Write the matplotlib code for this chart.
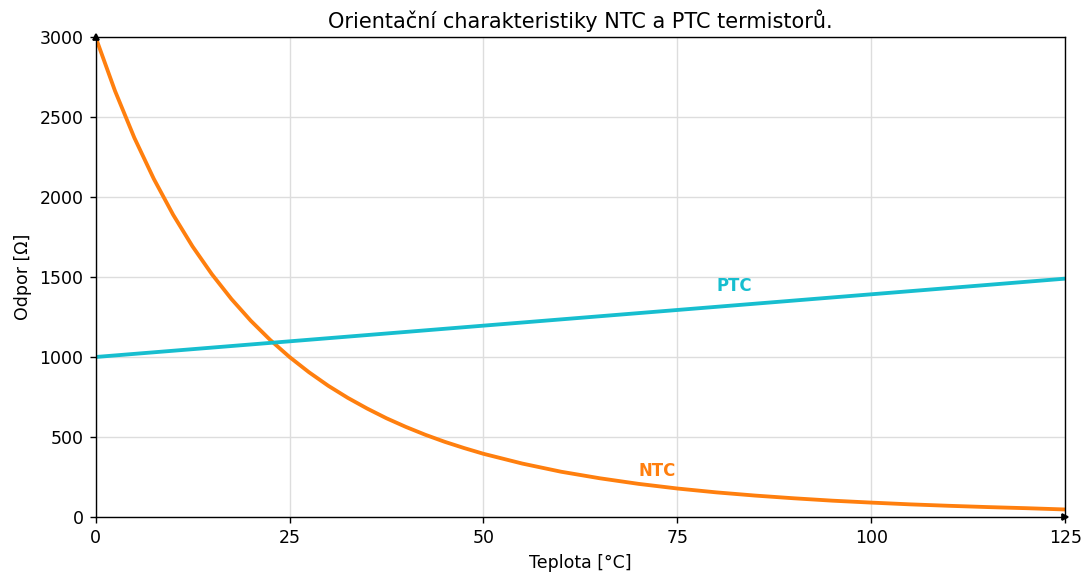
import matplotlib
matplotlib.use("Agg")
import matplotlib.pyplot as plt

# Temperature [°C]
teplota = [0, 2.5, 5, 7.5, 10, 12.5, 15, 17.5, 20, 22.5, 25, 27.5, 30, 32.5,
           35, 37.5, 40, 42.5, 45, 47.5, 50, 55, 60, 65, 70, 75,
           80, 85, 90, 95, 100, 105, 110, 115, 120, 125]
# NTC resistance [Ohm]
ntc = [3000, 2664, 2370, 2114, 1889, 1691, 1517, 1363, 1227, 1107, 1000, 905,
       820, 745, 678, 617, 563, 514, 470, 431, 395, 334,
       283, 242, 207, 178, 154, 134, 117, 102, 90, 79, 70, 62, 55, 47]
# PTC resistance [Ohm]
ptc_t = [0, 125]
ptc = [1000, 1490]

title = "Orientační charakteristiky NTC a PTC termistorů."
xlabel = "Teplota [°C]"
ylabel = "Odpor [Ω]"
xticks = [0, 25, 50, 75, 100, 125]
yticks = [0, 500, 1000, 1500, 2000, 2500, 3000]

fig = plt.figure(figsize=(8.688, 4.592), dpi=125)
ax = fig.add_axes([0.088, 0.0993, 0.893, 0.8362])

ax.plot(teplota, ntc, color="#ff7f0e", lw=2.2)
ax.plot(ptc_t, ptc, color="#17becf", lw=2.2)

ax.text(80, 1385, "PTC", color="#17becf", fontweight="bold", fontsize=9.5,
        va="bottom", ha="left")
ax.text(70, 230, "NTC", color="#ff7f0e", fontweight="bold", fontsize=9.5,
        va="bottom", ha="left")

ax.set_xlim(0, 125)
ax.set_ylim(0, 3000)
ax.set_xticks(xticks)
ax.set_yticks(yticks)
ax.grid(True, color="#dddddd", lw=0.8)
ax.set_axisbelow(True)
ax.set_title(title, fontsize=12, pad=5)
ax.set_xlabel(xlabel)
ax.set_ylabel(ylabel)

ax.plot(1, 0, ">k", ms=4, transform=ax.get_yaxis_transform(), clip_on=False)
ax.plot(0, 1, "^k", ms=4, transform=ax.get_xaxis_transform(), clip_on=False)

fig.savefig("out.png", dpi=125)
